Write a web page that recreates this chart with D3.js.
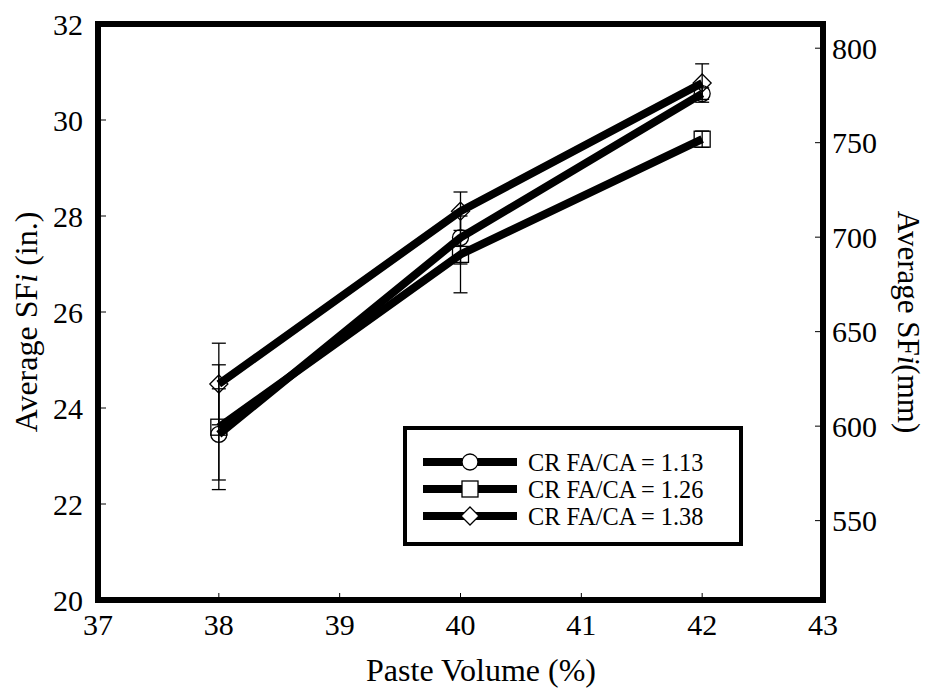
<!DOCTYPE html>
<html><head><meta charset="utf-8">
<script src="https://cdn.jsdelivr.net/npm/d3@7"></script>
<style>body{margin:0;background:#fff}svg{display:block}</style>
</head><body>
<script>
const pasteVolume = [38, 40, 42];
const seriesNames = ["CR FA/CA = 1.13", "CR FA/CA = 1.26", "CR FA/CA = 1.38"];
const seriesSymbols = ["circle", "square", "diamond"];
const sf113 = [23.45, 27.55, 30.55];
const sf126 = [23.6, 27.2, 29.6];
const sf138 = [24.5, 28.1, 30.77];
const err113 = [0.95, 0.55, 0.12];
const err126 = [1.3, 0.8, 0.17];
const err138 = [0.85, 0.4, 0.4];
const xTicks = [37, 38, 39, 40, 41, 42, 43];
const yTicksIn = [20, 22, 24, 26, 28, 30, 32];
const yTicksMm = [550, 600, 650, 700, 750, 800];

const FONT = "'Liberation Serif', Tinos, 'Times New Roman', Times, 'DejaVu Serif', serif";
const W = 927, H = 692;
const L = 98, R = 823, T = 24, B = 600;
const svg = d3.select("body").append("svg").attr("width", W).attr("height", H)
  .style("font-family", FONT);
const x = d3.scaleLinear().domain([37, 43]).range([L, R]);
const y = d3.scaleLinear().domain([20, 32]).range([B, T]);
const yMm = d3.scaleLinear().domain([20 * 25.4, 32 * 25.4]).range([B, T]);

const series = [
  {name: seriesNames[0], sym: seriesSymbols[0], v: sf113, e: err113},
  {name: seriesNames[1], sym: seriesSymbols[1], v: sf126, e: err126},
  {name: seriesNames[2], sym: seriesSymbols[2], v: sf138, e: err138}
];

function marker(g, sym, cx, cy) {
  if (sym === "circle") g.append("circle").attr("cx", cx).attr("cy", cy).attr("r", 8);
  else if (sym === "square") g.append("rect").attr("x", cx - 8).attr("y", cy - 8).attr("width", 16).attr("height", 16);
  else g.append("path").attr("d", `M${cx},${cy - 9}L${cx + 9},${cy}L${cx},${cy + 9}L${cx - 9},${cy}Z`);
}
function txt(sel) { return sel.style("font-family", FONT).attr("fill", "#000"); }

const fs = 30, fsTitle = 32;
const ax = svg.append("g");
ax.selectAll(".xt").data(xTicks).join("line").attr("x1", d => x(d)).attr("x2", d => x(d))
  .attr("y1", B).attr("y2", B - 7).attr("stroke", "#000").attr("stroke-width", 1);
txt(ax.selectAll(".xl").data(xTicks).join("text").attr("x", d => x(d)).attr("y", B + 35)
  .attr("text-anchor", "middle").attr("font-size", fs).text(d => d));
ax.selectAll(".yt").data(yTicksIn).join("line").attr("x1", L).attr("x2", L + 8)
  .attr("y1", d => y(d)).attr("y2", d => y(d)).attr("stroke", "#000").attr("stroke-width", 1);
txt(ax.selectAll(".yl").data(yTicksIn).join("text").attr("x", L - 15).attr("y", d => y(d))
  .attr("dy", "0.35em").attr("text-anchor", "end").attr("font-size", fs).text(d => d));
ax.selectAll(".rt").data(yTicksMm).join("line").attr("x1", R).attr("x2", R - 8)
  .attr("y1", d => yMm(d)).attr("y2", d => yMm(d)).attr("stroke", "#000").attr("stroke-width", 1);
txt(ax.selectAll(".rl").data(yTicksMm).join("text").attr("x", R + 9).attr("y", d => yMm(d))
  .attr("dy", "0.35em").attr("text-anchor", "start").attr("font-size", fs).text(d => d));

txt(svg.append("text").attr("x", 481).attr("y", 681).attr("text-anchor", "middle")
  .attr("font-size", fsTitle).text("Paste Volume (%)"));
const lt = txt(svg.append("text").attr("transform", `translate(37,322) rotate(-90)`)
  .attr("text-anchor", "middle").attr("font-size", fsTitle));
lt.append("tspan").text("Average SF");
lt.append("tspan").attr("font-style", "italic").text("i");
lt.append("tspan").text(" (in.)");
const rt = txt(svg.append("text").attr("transform", `translate(898,322) rotate(90)`)
  .attr("text-anchor", "middle").attr("font-size", 31));
rt.append("tspan").text("Average SF");
rt.append("tspan").attr("font-style", "italic").text("i");
rt.append("tspan").text("(mm)");

const eg = svg.append("g").attr("stroke", "#000").attr("stroke-width", 1.3);
series.forEach(s => {
  pasteVolume.forEach((pv, i) => {
    const cx = x(pv), y1 = y(s.v[i] - s.e[i]), y2 = y(s.v[i] + s.e[i]);
    eg.append("line").attr("x1", cx).attr("x2", cx).attr("y1", y1).attr("y2", y2);
    eg.append("line").attr("x1", cx - 7).attr("x2", cx + 7).attr("y1", y1).attr("y2", y1);
    eg.append("line").attr("x1", cx - 7).attr("x2", cx + 7).attr("y1", y2).attr("y2", y2);
  });
});
const mg = svg.append("g").attr("fill", "none").attr("stroke", "#000").attr("stroke-width", 1.3);
series.forEach(s => pasteVolume.forEach((pv, i) => marker(mg, s.sym, x(pv), y(s.v[i]))));
const line = d3.line().x((d, i) => x(pasteVolume[i])).y(d => y(d));
series.forEach(s => svg.append("path").attr("d", line(s.v)).attr("fill", "none")
  .attr("stroke", "#000").attr("stroke-width", 8).attr("stroke-linecap", "butt").attr("stroke-linejoin", "round"));

svg.append("rect").attr("x", L).attr("y", T).attr("width", R - L).attr("height", B - T)
  .attr("fill", "none").attr("stroke", "#000").attr("stroke-width", 6);

const lg = svg.append("g");
lg.append("rect").attr("x", 405).attr("y", 428).attr("width", 336).attr("height", 116)
  .attr("fill", "#fff").attr("stroke", "#000").attr("stroke-width", 4);
series.forEach((s, i) => {
  const ly = 462 + i * 27;
  lg.append("line").attr("x1", 423).attr("x2", 517).attr("y1", ly).attr("y2", ly)
    .attr("stroke", "#000").attr("stroke-width", 8);
  const g = lg.append("g").attr("fill", "#fff").attr("stroke", "#000").attr("stroke-width", 1.3);
  marker(g, s.sym, 470, ly);
  txt(lg.append("text").attr("x", 528).attr("y", ly).attr("dy", "0.35em").attr("font-size", 24.3).text(s.name));
});
</script>
</body></html>
